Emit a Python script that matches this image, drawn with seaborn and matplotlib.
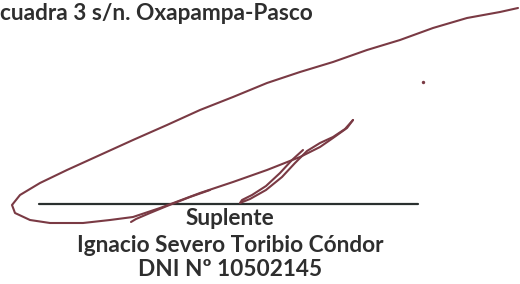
import matplotlib
matplotlib.use("Agg")
import matplotlib.pyplot as plt
import pandas as pd
import seaborn as sns

# text lines of the document (pixel positions below, y grows downward)
header_text = "cuadra 3 s/n. Oxapampa-Pasco"
footer_lines = ["Suplente", "Ignacio Severo Toribio Cóndor", "DNI Nº 10502145"]
footer_baselines = [225, 252, 276]

# signature strokes (x, y in pixels)
main_x = [518, 500, 467, 433, 400, 367, 333, 300, 267, 233, 200, 167, 133, 100, 67, 40, 20, 12, 15,
          30, 50, 83, 110, 133, 160, 200, 233, 267, 300, 320, 333, 347, 353]
main_y = [8, 12, 18, 28, 40, 50, 62, 72, 83, 97, 110, 125, 140, 155, 170, 183, 195, 205, 213,
          220, 223, 223, 220, 217, 208, 193, 182, 170, 157, 147, 138, 128, 120]
loop_x = [353, 345, 333, 320, 307, 295, 282, 266, 250, 240, 242, 252, 266, 280, 292, 303]
loop_y = [120, 129, 137, 143, 151, 163, 177, 190, 199, 203, 200, 195, 186, 173, 160, 150]
tail_x = [131, 136, 150, 167, 190, 210]
tail_y = [222, 219, 213, 206, 197, 190]
dot_x = [423]
dot_y = [82]
rule_x = [39, 418]
rule_y = [204, 204]

ink = "#7a3a44"
text_col = "#2e2e2e"

sns.set_theme(style="white")
plt.rcParams["font.family"] = ["Lato", "DejaVu Sans"]

fig = plt.figure(figsize=(5.2, 2.84), dpi=100)
ax = fig.add_axes([0, 0, 1, 1])

# signature line
sns.lineplot(x=rule_x, y=rule_y, color="#2a302f", linewidth=1.6, ax=ax)

# signature strokes
for xs, ys in [(main_x, main_y), (loop_x, loop_y), (tail_x, tail_y)]:
    df = pd.DataFrame({"x": xs, "y": ys})
    sns.lineplot(data=df, x="x", y="y", sort=False, estimator=None,
                 color=ink, linewidth=1.5, ax=ax)
sns.scatterplot(x=dot_x, y=dot_y, color=ink, s=6, linewidth=0, ax=ax)

ax.text(0, 20, header_text, ha="left", va="baseline", fontsize=16.3,
        fontweight="bold", color=text_col)
for line, yb in zip(footer_lines, footer_baselines):
    ax.text(230, yb, line, ha="center", va="baseline", fontsize=16.3,
            fontweight="bold", color=text_col)

ax.set_xlim(0, 520)
ax.set_ylim(284, 0)
ax.axis("off")
fig.savefig("out.png", dpi=100)
